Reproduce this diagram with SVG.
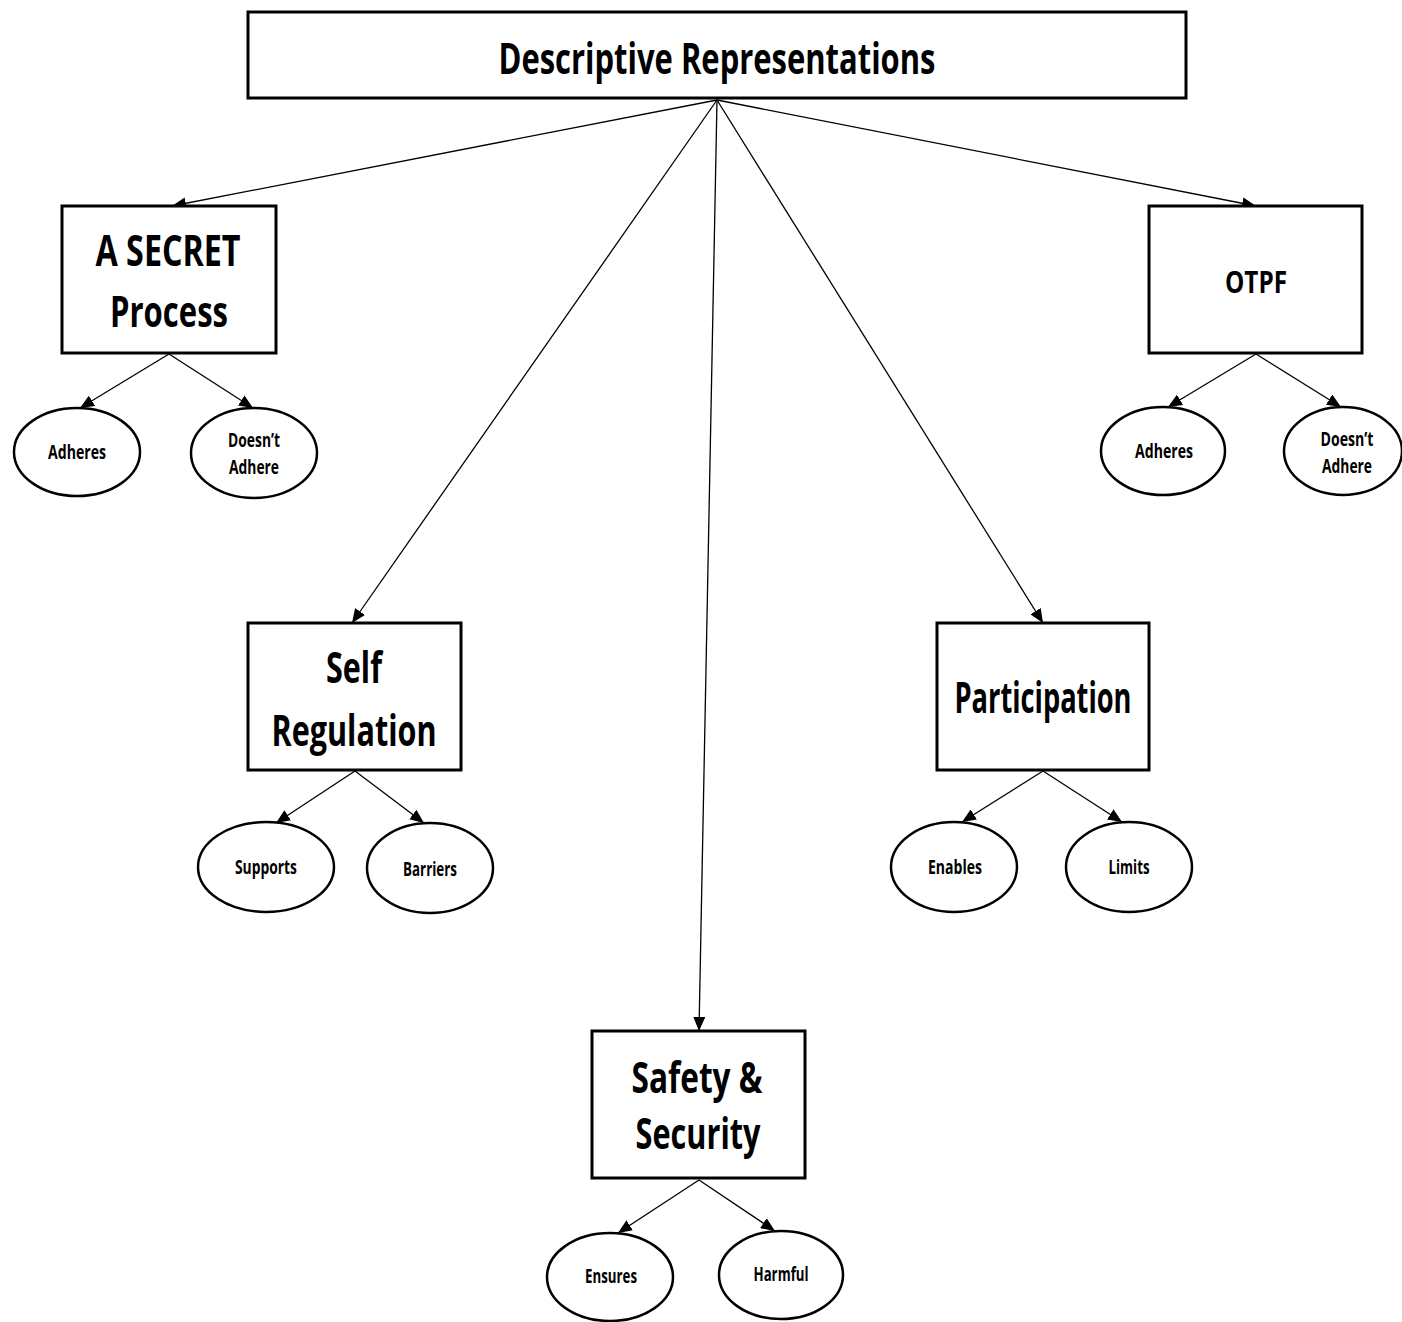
<svg xmlns="http://www.w3.org/2000/svg" width="1402" height="1322" viewBox="0 0 1402 1322">
<style>
.box{fill:#fff;stroke:#000;stroke-width:3}
.ell{fill:#fff;stroke:#000;stroke-width:2.5}
.t{font-family:"Open Sans","Liberation Sans",sans-serif;font-weight:bold;fill:#000;text-anchor:middle}
.big{font-size:43px}
.sm{font-size:19px;font-weight:bold}
.c line{stroke:#000;stroke-width:1.3;marker-end:url(#ah)}
</style>
<defs>
<marker id="ah" markerUnits="userSpaceOnUse" markerWidth="14" markerHeight="12" refX="14" refY="6" orient="auto">
<path d="M0,0 L14,6 L0,12 z" fill="#000"/>
</marker>
</defs>
<rect width="1402" height="1322" fill="#fff"/>
<g id="connectors" class="c">
<line x1="717" y1="100" x2="172" y2="206"/>
<line x1="717" y1="100" x2="352" y2="623"/>
<line x1="717" y1="100" x2="699" y2="1031"/>
<line x1="717" y1="100" x2="1043" y2="623"/>
<line x1="717" y1="100" x2="1256" y2="206"/>
<line x1="169" y1="354" x2="80" y2="408"/>
<line x1="169" y1="354" x2="253" y2="408"/>
<line x1="1256" y1="354" x2="1168" y2="407"/>
<line x1="1256" y1="354" x2="1341" y2="407"/>
<line x1="355" y1="771" x2="276" y2="823"/>
<line x1="355" y1="771" x2="424" y2="823"/>
<line x1="1043" y1="771" x2="962" y2="822"/>
<line x1="1043" y1="771" x2="1122" y2="822"/>
<line x1="699" y1="1180" x2="618" y2="1233"/>
<line x1="699" y1="1180" x2="775" y2="1231"/>
</g>
<g id="root">
<rect class="box" x="248" y="12" width="938" height="86"/>
<text class="t big" x="717" y="74" textLength="437" lengthAdjust="spacingAndGlyphs">Descriptive Representations</text>
</g>
<g id="secret">
<rect class="box" x="62" y="206" width="214" height="147"/>
<text class="t big" x="168" y="266" textLength="145" lengthAdjust="spacingAndGlyphs">A SECRET</text>
<text class="t big" x="169" y="327" textLength="118" lengthAdjust="spacingAndGlyphs">Process</text>
</g>
<g id="secret-adheres">
<ellipse class="ell" cx="77" cy="452" rx="63" ry="44"/>
<text class="t sm" x="77" y="459" textLength="58" lengthAdjust="spacingAndGlyphs">Adheres</text>
</g>
<g id="secret-doesnt">
<ellipse class="ell" cx="254" cy="453" rx="63" ry="45"/>
<text class="t sm" x="254" y="447" textLength="52" lengthAdjust="spacingAndGlyphs">Doesn’t</text>
<text class="t sm" x="254" y="474" textLength="50" lengthAdjust="spacingAndGlyphs">Adhere</text>
</g>
<g id="otpf">
<rect class="box" x="1149" y="206" width="213" height="147"/>
<text class="t" style="font-size:31px" x="1256" y="293" textLength="62" lengthAdjust="spacingAndGlyphs">OTPF</text>
</g>
<g id="otpf-adheres">
<ellipse class="ell" cx="1163" cy="451" rx="62" ry="44"/>
<text class="t sm" x="1164" y="458" textLength="58" lengthAdjust="spacingAndGlyphs">Adheres</text>
</g>
<g id="otpf-doesnt">
<ellipse class="ell" cx="1343" cy="451" rx="59" ry="44"/>
<text class="t sm" x="1347" y="446" textLength="53" lengthAdjust="spacingAndGlyphs">Doesn’t</text>
<text class="t sm" x="1347" y="473" textLength="50" lengthAdjust="spacingAndGlyphs">Adhere</text>
</g>
<g id="self">
<rect class="box" x="248" y="623" width="213" height="147"/>
<text class="t big" x="354" y="683" textLength="56" lengthAdjust="spacingAndGlyphs">Self</text>
<text class="t big" x="354" y="746" textLength="165" lengthAdjust="spacingAndGlyphs">Regulation</text>
</g>
<g id="supports">
<ellipse class="ell" cx="266" cy="867" rx="68" ry="45"/>
<text class="t sm" x="266" y="874" textLength="62" lengthAdjust="spacingAndGlyphs">Supports</text>
</g>
<g id="barriers">
<ellipse class="ell" cx="430" cy="868" rx="63" ry="45"/>
<text class="t sm" x="430" y="876" textLength="54" lengthAdjust="spacingAndGlyphs">Barriers</text>
</g>
<g id="participation">
<rect class="box" x="937" y="623" width="212" height="147"/>
<text class="t big" x="1043" y="713" textLength="177" lengthAdjust="spacingAndGlyphs">Participation</text>
</g>
<g id="enables">
<ellipse class="ell" cx="954" cy="867" rx="63" ry="45"/>
<text class="t sm" x="955" y="874" textLength="54" lengthAdjust="spacingAndGlyphs">Enables</text>
</g>
<g id="limits">
<ellipse class="ell" cx="1129" cy="867" rx="63" ry="45"/>
<text class="t sm" x="1129" y="874" textLength="41" lengthAdjust="spacingAndGlyphs">Limits</text>
</g>
<g id="safety">
<rect class="box" x="592" y="1031" width="213" height="147"/>
<text class="t big" x="697" y="1093" textLength="131" lengthAdjust="spacingAndGlyphs">Safety &amp;</text>
<text class="t big" x="698" y="1149" textLength="125" lengthAdjust="spacingAndGlyphs">Security</text>
</g>
<g id="ensures">
<ellipse class="ell" cx="610" cy="1277" rx="63" ry="44"/>
<text class="t sm" x="611" y="1283" textLength="52" lengthAdjust="spacingAndGlyphs">Ensures</text>
</g>
<g id="harmful">
<ellipse class="ell" cx="781" cy="1275" rx="62" ry="44"/>
<text class="t sm" x="781" y="1281" textLength="55" lengthAdjust="spacingAndGlyphs">Harmful</text>
</g>
</svg>
